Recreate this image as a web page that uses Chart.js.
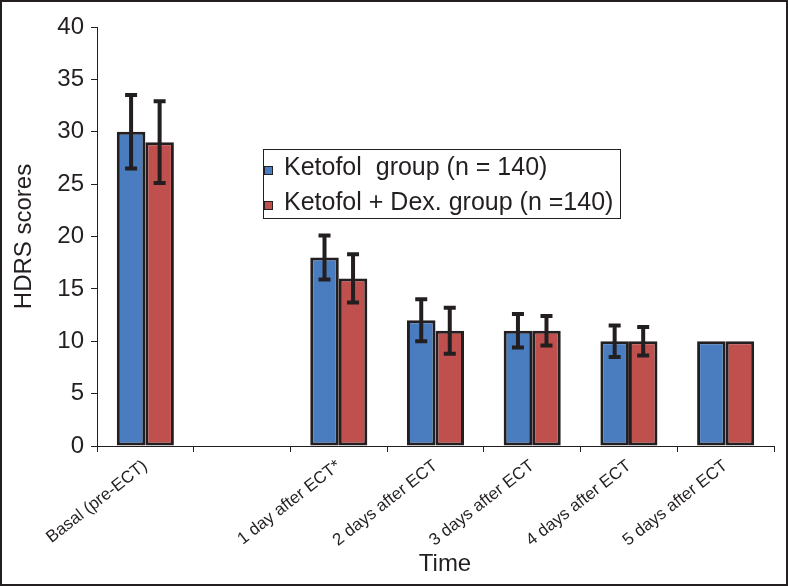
<!DOCTYPE html>
<html>
<head>
<meta charset="utf-8">
<script src="https://cdn.jsdelivr.net/npm/chart.js@4"></script>
<style>
  body { margin: 0; background: #fff; }
  canvas { display: block; }
</style>
</head>
<body>
<canvas id="chart" width="788" height="586"></canvas>
<script>
// time points (empty slot kept as in the original figure)
const timeLabels = ['Basal (pre-ECT)', '', '1 day after ECT*', '2 days after ECT', '3 days after ECT', '4 days after ECT', '5 days after ECT'];
const ketofolScores = [30, null, 18, 12, 11, 10, 10];
const ketofolDexScores = [29, null, 16, 11, 11, 10, 10];
const ketofolErr = [3.5, null, 2.1, 2.0, 1.6, 1.5, 0];
const ketofolDexErr = [3.9, null, 2.3, 2.2, 1.4, 1.35, 0];
const seriesNames = ['Ketofol  group (n = 140)', 'Ketofol + Dex. group (n =140)'];
const yTicks = [0, 5, 10, 15, 20, 25, 30, 35, 40];

const ink = '#231f20';
const fontFamily = "'Liberation Sans', Arial, sans-serif";
const blue = '#4a7dbf';
const red = '#c0504d';

const errorBars = {
    id: 'errorBars',
    afterDatasetsDraw(chart) {
        const ctx = chart.ctx;
        const yScale = chart.scales.y;
        const errs = [ketofolErr, ketofolDexErr];
        ctx.save();
        ctx.strokeStyle = ink;
        ctx.lineWidth = 4;
        chart.data.datasets.forEach((ds, di) => {
            const meta = chart.getDatasetMeta(di);
            meta.data.forEach((bar, i) => {
                const v = ds.data[i];
                const e = errs[di][i];
                if (v === null || !e) return;
                const x = bar.x;
                const yTop = yScale.getPixelForValue(v + e);
                const yBot = yScale.getPixelForValue(v - e);
                ctx.beginPath();
                ctx.moveTo(x, yTop); ctx.lineTo(x, yBot);
                ctx.moveTo(x - 6, yTop); ctx.lineTo(x + 6, yTop);
                ctx.moveTo(x - 6, yBot); ctx.lineTo(x + 6, yBot);
                ctx.stroke();
            });
        });
        ctx.restore();
    }
};

const extras = {
    id: 'extras',
    afterDraw(chart) {
        const ctx = chart.ctx;
        ctx.save();
        // legend box
        ctx.strokeStyle = ink;
        ctx.lineWidth = 1;
        ctx.strokeRect(263.5, 149.5, 357, 69);
        ctx.font = '25px ' + fontFamily;
        ctx.textBaseline = 'alphabetic';
        [blue, red].forEach((c, i) => {
            const base = 175 + i * 35;
            ctx.fillStyle = c;
            ctx.fillRect(265, base - 8, 7, 7);
            ctx.strokeStyle = ink;
            ctx.lineWidth = 1;
            ctx.strokeRect(264.5, base - 8.5, 8, 8);
            ctx.fillStyle = ink;
            ctx.fillText(seriesNames[i], 284, base);
        });
        // x axis title
        ctx.font = '24px ' + fontFamily;
        ctx.textAlign = 'center';
        ctx.textBaseline = 'middle';
        ctx.fillText('Time', 445, 564);
        // outer frame
        ctx.lineWidth = 2;
        ctx.strokeRect(1, 1, chart.width - 2, chart.height - 2);
        ctx.restore();
    }
};

new Chart(document.getElementById('chart'), {
    type: 'bar',
    data: {
        labels: timeLabels,
        datasets: [
            {
                label: seriesNames[0],
                data: ketofolScores,
                backgroundColor: blue,
                borderColor: ink,
                borderWidth: 3,
                borderSkipped: false
            },
            {
                label: seriesNames[1],
                data: ketofolDexScores,
                backgroundColor: red,
                borderColor: ink,
                borderWidth: 3,
                borderSkipped: false
            }
        ]
    },
    options: {
        responsive: false,
        animation: false,
        layout: { padding: { left: 0, right: 14, top: 27, bottom: 0 } },
        datasets: { bar: { categoryPercentage: 0.59, barPercentage: 1.0 } },
        plugins: {
            legend: { display: false },
            tooltip: { enabled: false }
        },
        scales: {
            x: {
                afterFit(scale) { scale.height = 140; },
                grid: { drawOnChartArea: false, drawTicks: true, tickLength: 6, color: ink, offset: true },
                border: { color: ink, width: 1 },
                ticks: {
                    color: ink,
                    font: { family: fontFamily, size: 17 },
                    maxRotation: 38,
                    minRotation: 38,
                    padding: 4,
                    autoSkip: false
                }
            },
            y: {
                min: 0,
                max: 40,
                afterFit(scale) { scale.width = 97; },
                afterBuildTicks(scale) { scale.ticks = yTicks.map(v => ({ value: v })); },
                grid: { drawOnChartArea: false, drawTicks: true, tickLength: 6, color: ink },
                border: { color: ink, width: 1 },
                ticks: {
                    color: ink,
                    font: { family: fontFamily, size: 24 },
                    padding: 7
                },
                title: {
                    display: true,
                    text: 'HDRS scores',
                    color: ink,
                    font: { family: fontFamily, size: 24 },
                    padding: { top: 10, bottom: 0 }
                }
            }
        }
    },
    plugins: [errorBars, extras]
});
</script>
</body>
</html>
